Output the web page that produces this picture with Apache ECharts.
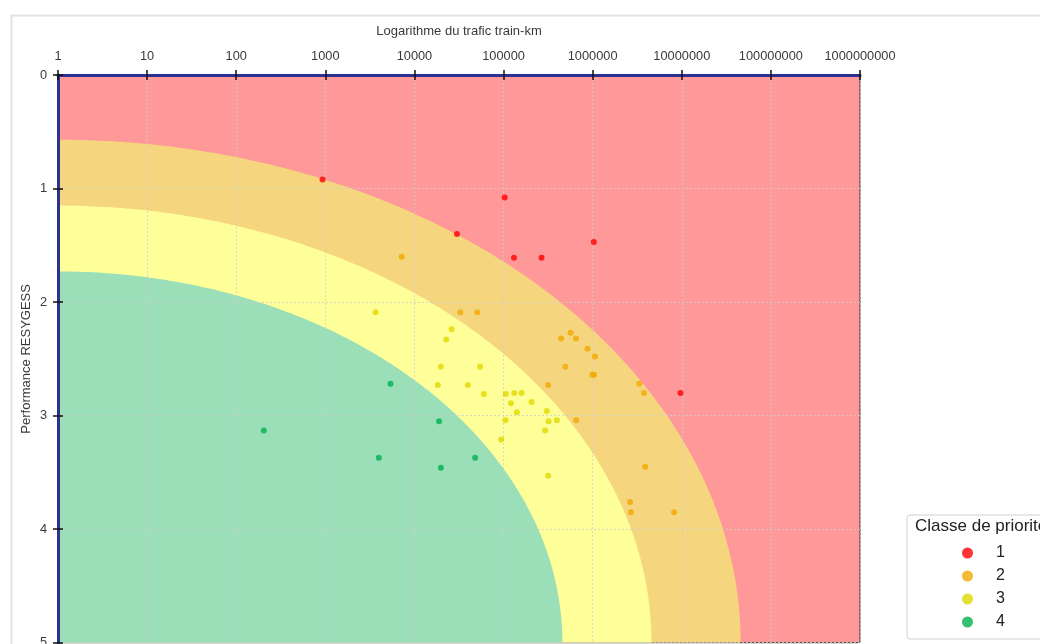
<!DOCTYPE html>
<html>
<head>
<meta charset="utf-8">
<title>Performance RESYGESS</title>
<script src="https://cdn.jsdelivr.net/npm/echarts@6/dist/echarts.min.js"></script>
<style>
  html, body { margin: 0; padding: 0; background: #fff; }
  #chart { width: 1040px; height: 644px; }
</style>
</head>
<body>
<div id="chart"></div>
<script>
// classes de priorité
const classes = ['1', '2', '3', '4'];
const classColors = ['#ff0000', '#f2a900', '#e0d800', '#00b050'];

// trafic train-km / performance RESYGESS par classe
const trafic1 = [930, 103000, 30000, 1030000, 131000, 267000, 9660000];
const perf1 = [0.92, 1.08, 1.40, 1.47, 1.61, 1.61, 2.80];

const trafic2 = [7200, 32700, 50600, 442000, 565000, 650000, 873000, 1060000, 494000, 993000,
  1040000, 317000, 3330000, 3760000, 653000, 3880000, 2630000, 2690000, 8200000];
const perf2 = [1.60, 2.09, 2.09, 2.32, 2.27, 2.32, 2.41, 2.48, 2.57, 2.64,
  2.64, 2.73, 2.72, 2.80, 3.04, 3.45, 3.76, 3.85, 3.85];

const trafic3 = [3660, 26100, 22700, 19800, 54600, 18300, 39700, 60100, 106000, 132000,
  159000, 121000, 206000, 141000, 306000, 105000, 320000, 396000, 293000, 94000, 317000];
const perf3 = [2.09, 2.24, 2.33, 2.57, 2.57, 2.73, 2.73, 2.81, 2.81, 2.80,
  2.80, 2.89, 2.88, 2.97, 2.96, 3.04, 3.05, 3.04, 3.13, 3.21, 3.53];

const trafic4 = [204, 5390, 18900, 3980, 48000, 19800];
const perf4 = [3.13, 2.72, 3.05, 3.37, 3.37, 3.46];

// zones (ellipses centrées sur trafic = 1, performance = 5), du plus grand au plus petit
const zoneRx = [7.66, 6.66, 5.66]; // en décades
const zoneRy = [4.43, 3.85, 3.27];
const zoneColors = ['#f5d67f', '#ffff99', '#9bdfb9'];
const backgroundColor = '#ff9999';

const xTickLabels = ['1', '10', '100', '1000', '10000', '100000', '1000000', '10000000', '100000000', '1000000000'];
const yMin = 0;
const yMax = 5;

const axisBlue = '#2e3192';
const textColor = '#3a3a3a';
const fontFamily = '"Liberation Sans", Arial, sans-serif';

const traficByClass = [trafic1, trafic2, trafic3, trafic4];
const perfByClass = [perf1, perf2, perf3, perf4];

const chart = echarts.init(document.getElementById('chart'));

const scatterSeries = classes.map((name, i) => ({
  name: name,
  type: 'scatter',
  xAxisIndex: 0,
  yAxisIndex: 0,
  z: 5,
  symbol: 'circle',
  symbolSize: 6,
  itemStyle: { color: classColors[i] },
  data: traficByClass[i].map((t, k) => [t, perfByClass[i][k]])
}));

const splitLineStyle = { color: 'rgba(205,205,205,0.8)', type: [2, 2], width: 1 };
const tickStyle = { color: '#111', width: 1.5 };

const option = {
  animation: false,
  textStyle: { fontFamily: fontFamily },
  graphic: [
    {
      type: 'rect',
      left: 9,
      top: 13,
      z: -10,
      shape: { width: 1100, height: 700 },
      style: { fill: 'none', stroke: '#e4e4e4', lineWidth: 2 }
    }
  ],
  title: {
    text: 'Classe de priorité',
    left: 915,
    top: 518,
    padding: 0,
    textStyle: { fontSize: 17, fontWeight: 'normal', color: '#222', fontFamily: fontFamily }
  },
  legend: {
    data: classes,
    orient: 'vertical',
    left: 907,
    top: 515,
    padding: [29, 60, 8, 55],
    itemGap: 5,
    itemWidth: 11,
    itemHeight: 11,
    icon: 'circle',
    borderColor: '#d0d0d0',
    borderWidth: 1,
    borderRadius: 3,
    backgroundColor: '#fff',
    textStyle: { fontSize: 16, color: '#222', lineHeight: 18, padding: [0, 0, 0, 18], fontFamily: fontFamily }
  },
  grid: {
    show: true,
    left: 58,
    top: 75,
    right: 180,
    bottom: 1.3,
    outerBoundsMode: 'none',
    backgroundColor: backgroundColor,
    borderColor: '#333',
    borderWidth: 1
  },
  xAxis: [
    {
      type: 'log',
      logBase: 10,
      min: 1,
      max: 1e9,
      position: 'top',
      z: 3,
      name: 'Logarithme du trafic train-km',
      nameLocation: 'middle',
      nameGap: 37,
      nameMoveOverlap: false,
      nameTextStyle: { fontSize: 13, color: textColor },
      axisLine: { show: true, lineStyle: { color: axisBlue, width: 3 } },
      axisTick: { show: true, length: 5, lineStyle: tickStyle },
      axisLabel: {
        fontSize: 12.8,
        color: textColor,
        margin: 12,
        formatter: v => xTickLabels[Math.round(Math.log10(v))]
      },
      splitLine: { show: true, lineStyle: splitLineStyle }
    },
    {
      // ticks intérieurs
      type: 'log',
      logBase: 10,
      min: 1,
      max: 1e9,
      position: 'top',
      z: 3,
      axisLine: { show: false },
      axisTick: { show: true, inside: true, length: 5, lineStyle: tickStyle },
      axisLabel: { show: false },
      splitLine: { show: false }
    }
  ],
  yAxis: [
    {
      type: 'value',
      inverse: true,
      min: yMin,
      max: yMax,
      interval: 1,
      position: 'left',
      z: 3,
      name: 'Performance RESYGESS',
      nameLocation: 'middle',
      nameGap: 25,
      nameMoveOverlap: false,
      nameTextStyle: { fontSize: 13, color: textColor },
      axisLine: { show: true, lineStyle: { color: axisBlue, width: 3 } },
      axisTick: { show: true, length: 5, lineStyle: tickStyle },
      axisLabel: { fontSize: 12.8, color: textColor, margin: 11 },
      splitLine: { show: true, lineStyle: splitLineStyle }
    },
    {
      type: 'value',
      inverse: true,
      min: yMin,
      max: yMax,
      interval: 1,
      position: 'left',
      z: 3,
      axisLine: { show: false },
      axisTick: { show: true, inside: true, length: 5, lineStyle: tickStyle },
      axisLabel: { show: false },
      splitLine: { show: false }
    }
  ],
  series: [
    {
      type: 'custom',
      xAxisIndex: 0,
      yAxisIndex: 0,
      z: 1,
      silent: true,
      clip: true,
      data: zoneRx.map((rx, i) => [rx, zoneRy[i]]),
      renderItem: function (params, api) {
        const rx = api.value(0);
        const ry = api.value(1);
        const points = [api.coord([1, yMax])];
        for (let k = 0; k <= 180; k++) {
          const t = (k / 180) * Math.PI / 2;
          points.push(api.coord([Math.pow(10, rx * Math.cos(t)), yMax - ry * Math.sin(t)]));
        }
        return {
          type: 'polygon',
          shape: { points: points },
          style: { fill: zoneColors[params.dataIndex] }
        };
      }
    }
  ].concat(scatterSeries)
};

chart.setOption(option);
</script>
</body>
</html>
